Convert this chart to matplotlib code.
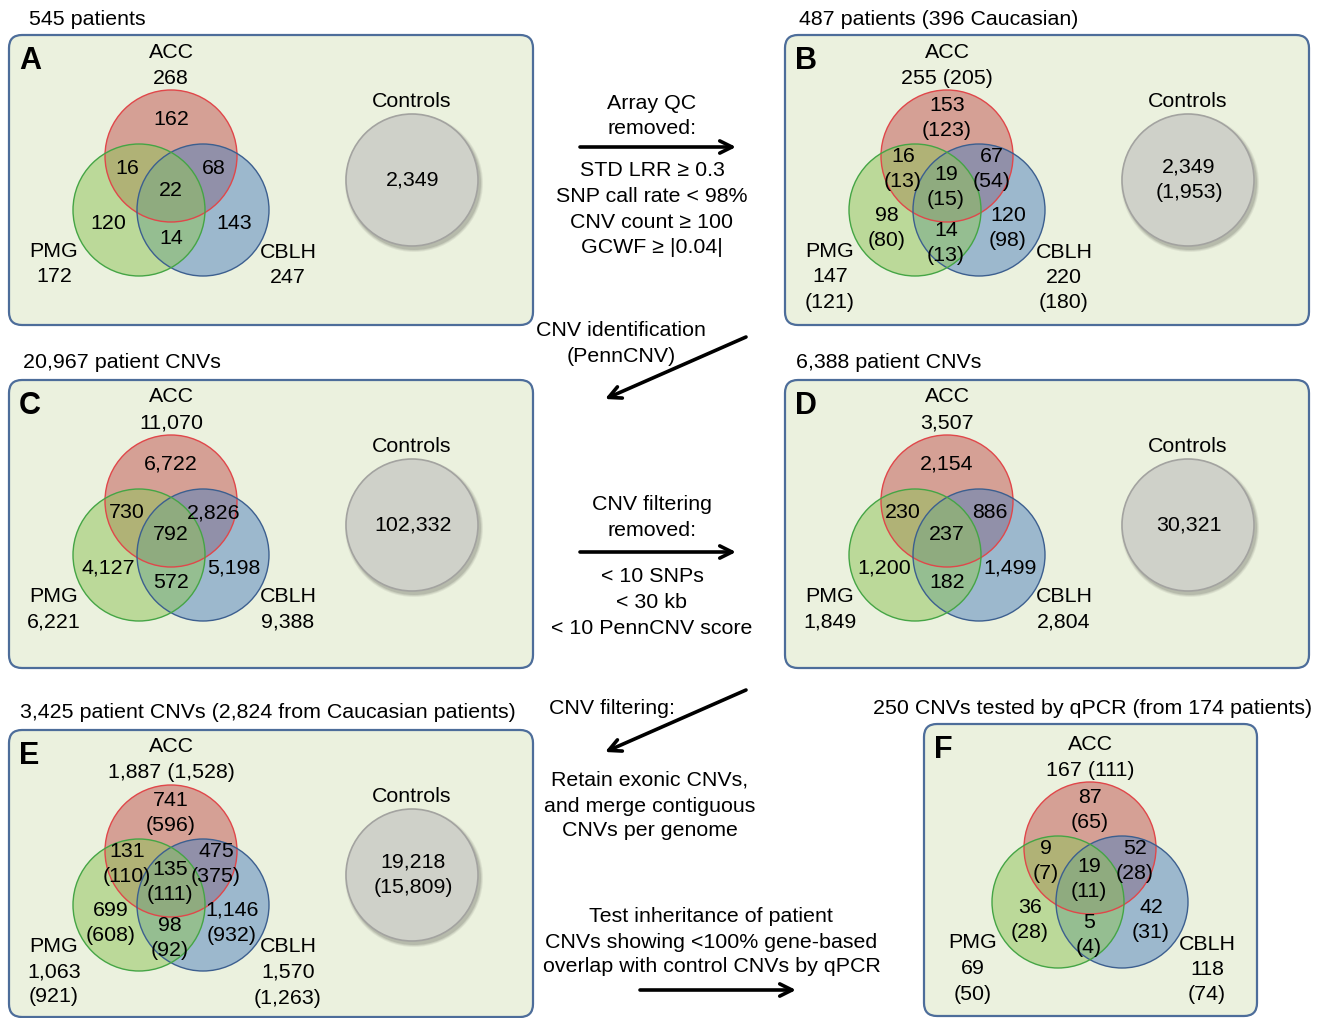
import matplotlib
matplotlib.use("Agg")
import matplotlib.pyplot as plt
from matplotlib.patches import FancyBboxPatch, Circle

plt.rcParams["font.family"] = ["Liberation Sans", "DejaVu Sans"]

# ------------------------------------------------------------
# data
# ------------------------------------------------------------
panel_letters = ["A", "B", "C", "D", "E", "F"]

panel_titles = [
    "545 patients",
    "487 patients (396 Caucasian)",
    "20,967 patient CNVs",
    "6,388 patient CNVs",
    "3,425 patient CNVs (2,824 from Caucasian patients)",
    "250 CNVs tested by qPCR (from 174 patients)",
]

acc_totals = ["268", "255 (205)", "11,070", "3,507", "1,887 (1,528)", "167 (111)"]
pmg_totals = ["172", "147\n(121)", "6,221", "1,849", "1,063\n(921)", "69\n(50)"]
cblh_totals = ["247", "220\n(180)", "9,388", "2,804", "1,570\n(1,263)", "118\n(74)"]

# region order: ACC only, ACC+PMG, ACC+CBLH, all three, PMG only, PMG+CBLH, CBLH only
regions_a = ["162", "16", "68", "22", "120", "14", "143"]
regions_b = ["153\n(123)", "16\n(13)", "67\n(54)", "19\n(15)", "98\n(80)", "14\n(13)", "120\n(98)"]
regions_c = ["6,722", "730", "2,826", "792", "4,127", "572", "5,198"]
regions_d = ["2,154", "230", "886", "237", "1,200", "182", "1,499"]
regions_e = ["741\n(596)", "131\n(110)", "475\n(375)", "135\n(111)", "699\n(608)", "98\n(92)", "1,146\n(932)"]
regions_f = ["87\n(65)", "9\n(7)", "52\n(28)", "19\n(11)", "36\n(28)", "5\n(4)", "42\n(31)"]
panel_regions = [regions_a, regions_b, regions_c, regions_d, regions_e, regions_f]

controls = ["2,349", "2,349\n(1,953)", "102,332", "30,321", "19,218\n(15,809)", None]

# ------------------------------------------------------------
# layout (pixels, y downwards)
# ------------------------------------------------------------
boxes = [(9, 35, 524, 290), (785, 35, 524, 290),
         (9, 380, 524, 288), (785, 380, 524, 288),
         (9, 730, 524, 287), (924, 724, 333, 292)]
title_pos = [(29, 19), (799, 19), (23, 363), (796, 363), (20, 713), (873, 709)]

R = 66
off_single = [(0, -37), (-44, 12), (43, 12), (0, 34), (-63, 67), (0, 82), (63, 67)]
off_double = [(0, -38), (-44, 13), (45, 13), (-1, 31), (-60, 72), (-1, 87), (61, 72)]

FS = 15.4
LINE = 25.5
box_face = "#ebf1de"
box_edge = "#4d6d9a"


def stack(ax, x, y, text, **kw):
    lines = text.split("\n")
    y0 = y - LINE * (len(lines) - 1) / 2
    for i, s in enumerate(lines):
        ax.text(x, y0 + i * LINE, s, ha="center", va="center", fontsize=FS, **kw)


fig = plt.figure(figsize=(13.24, 10.18), dpi=100)
ax = fig.add_axes([0, 0, 1, 1])
ax.set_xlim(0, 1324)
ax.set_ylim(1018, 0)
ax.axis("off")

for i in range(6):
    bx, by, bw, bh = boxes[i]
    ax.add_patch(FancyBboxPatch((bx, by), bw, bh,
                                boxstyle="round,pad=0,rounding_size=13",
                                facecolor=box_face, edgecolor=box_edge, lw=1.6))
    ax.text(bx + 10, by + 26, panel_letters[i], fontsize=22, fontweight="bold",
            ha="left", va="center")
    ax.text(title_pos[i][0], title_pos[i][1], panel_titles[i], fontsize=FS,
            ha="left", va="center")

    if i < 5:
        cx, cy = bx + 162, by + 121
    else:
        cx, cy = 1090, 848

    # venn circles: red, blue, green on top
    ax.add_patch(Circle((cx, cy), R, facecolor="#c0504d", alpha=0.5, lw=0))
    ax.add_patch(Circle((cx + 32, cy + 54), R, facecolor="#4f81bd", alpha=0.5, lw=0))
    ax.add_patch(Circle((cx - 32, cy + 54), R, facecolor="#8fc45a", alpha=0.52, lw=0))
    ax.add_patch(Circle((cx, cy), R, facecolor="none", edgecolor="#e0474a", lw=1.0))
    ax.add_patch(Circle((cx + 32, cy + 54), R, facecolor="none", edgecolor="#3c5f8f", lw=1.0))
    ax.add_patch(Circle((cx - 32, cy + 54), R, facecolor="none", edgecolor="#45a545", lw=1.0))

    regs = panel_regions[i]
    offs = off_double if "\n" in regs[0] else off_single
    for txt, (dx, dy) in zip(regs, offs):
        stack(ax, cx + dx, cy + dy, txt)

    stack(ax, cx, cy - 104, "ACC")
    stack(ax, cx, cy - 78, acc_totals[i])
    pm = "PMG\n" + pmg_totals[i]
    cb = "CBLH\n" + cblh_totals[i]
    n_pm = len(pm.split("\n"))
    n_cb = len(cb.split("\n"))
    stack(ax, cx - 117, cy + 95 + LINE * (n_pm - 1) / 2, pm)
    stack(ax, cx + 117, cy + 96 + LINE * (n_cb - 1) / 2, cb)

    if controls[i] is not None:
        kx, ky = bx + 403, by + 145
        for k, a in enumerate([0.06, 0.08, 0.10]):
            ax.add_patch(Circle((kx + 2, ky + 3), R + 3 - k, facecolor="black",
                                alpha=a, lw=0))
        ax.add_patch(Circle((kx, ky), R, facecolor="#cfd1c9", edgecolor="#a3a3a0", lw=1.2))
        stack(ax, kx, ky - 79, "Controls")
        stack(ax, kx + 1, ky, controls[i])

# ------------------------------------------------------------
# workflow notes and arrows between the panels
# ------------------------------------------------------------
notes = [
    ("Array QC", 652, 103), ("removed:", 652, 128),
    ("STD LRR \u2265 0.3", 652, 170), ("SNP call rate < 98%", 652, 196),
    ("CNV count \u2265 100", 652, 222), ("GCWF \u2265 |0.04|", 652, 247),
    ("CNV identification", 621, 330), ("(PennCNV)", 621, 356),
    ("CNV filtering", 652, 505), ("removed:", 652, 530),
    ("< 10 SNPs", 652, 577), ("< 30 kb", 652, 602), ("< 10 PennCNV score", 652, 628),
    ("CNV filtering:", 612, 708),
    ("Retain exonic CNVs,", 650, 780), ("and merge contiguous", 650, 806),
    ("CNVs per genome", 650, 831),
    ("Test inheritance of patient", 711, 916),
    ("CNVs showing <100% gene-based", 711, 942),
    ("overlap with control CNVs by qPCR", 712, 967),
]
for s, x, y in notes:
    ax.text(x, y, s, ha="center", va="center", fontsize=FS)

arrows = [((580, 147), (736, 147)), ((746, 337), (605, 399)),
          ((580, 552), (736, 552)), ((746, 690), (605, 752)),
          ((640, 990), (796, 990))]
for (x0, y0), (x1, y1) in arrows:
    ax.annotate("", xy=(x1, y1), xytext=(x0, y0),
                arrowprops=dict(arrowstyle="->", lw=2.6, color="black",
                                mutation_scale=22, shrinkA=0, shrinkB=0))

fig.savefig("out.png", dpi=100)
